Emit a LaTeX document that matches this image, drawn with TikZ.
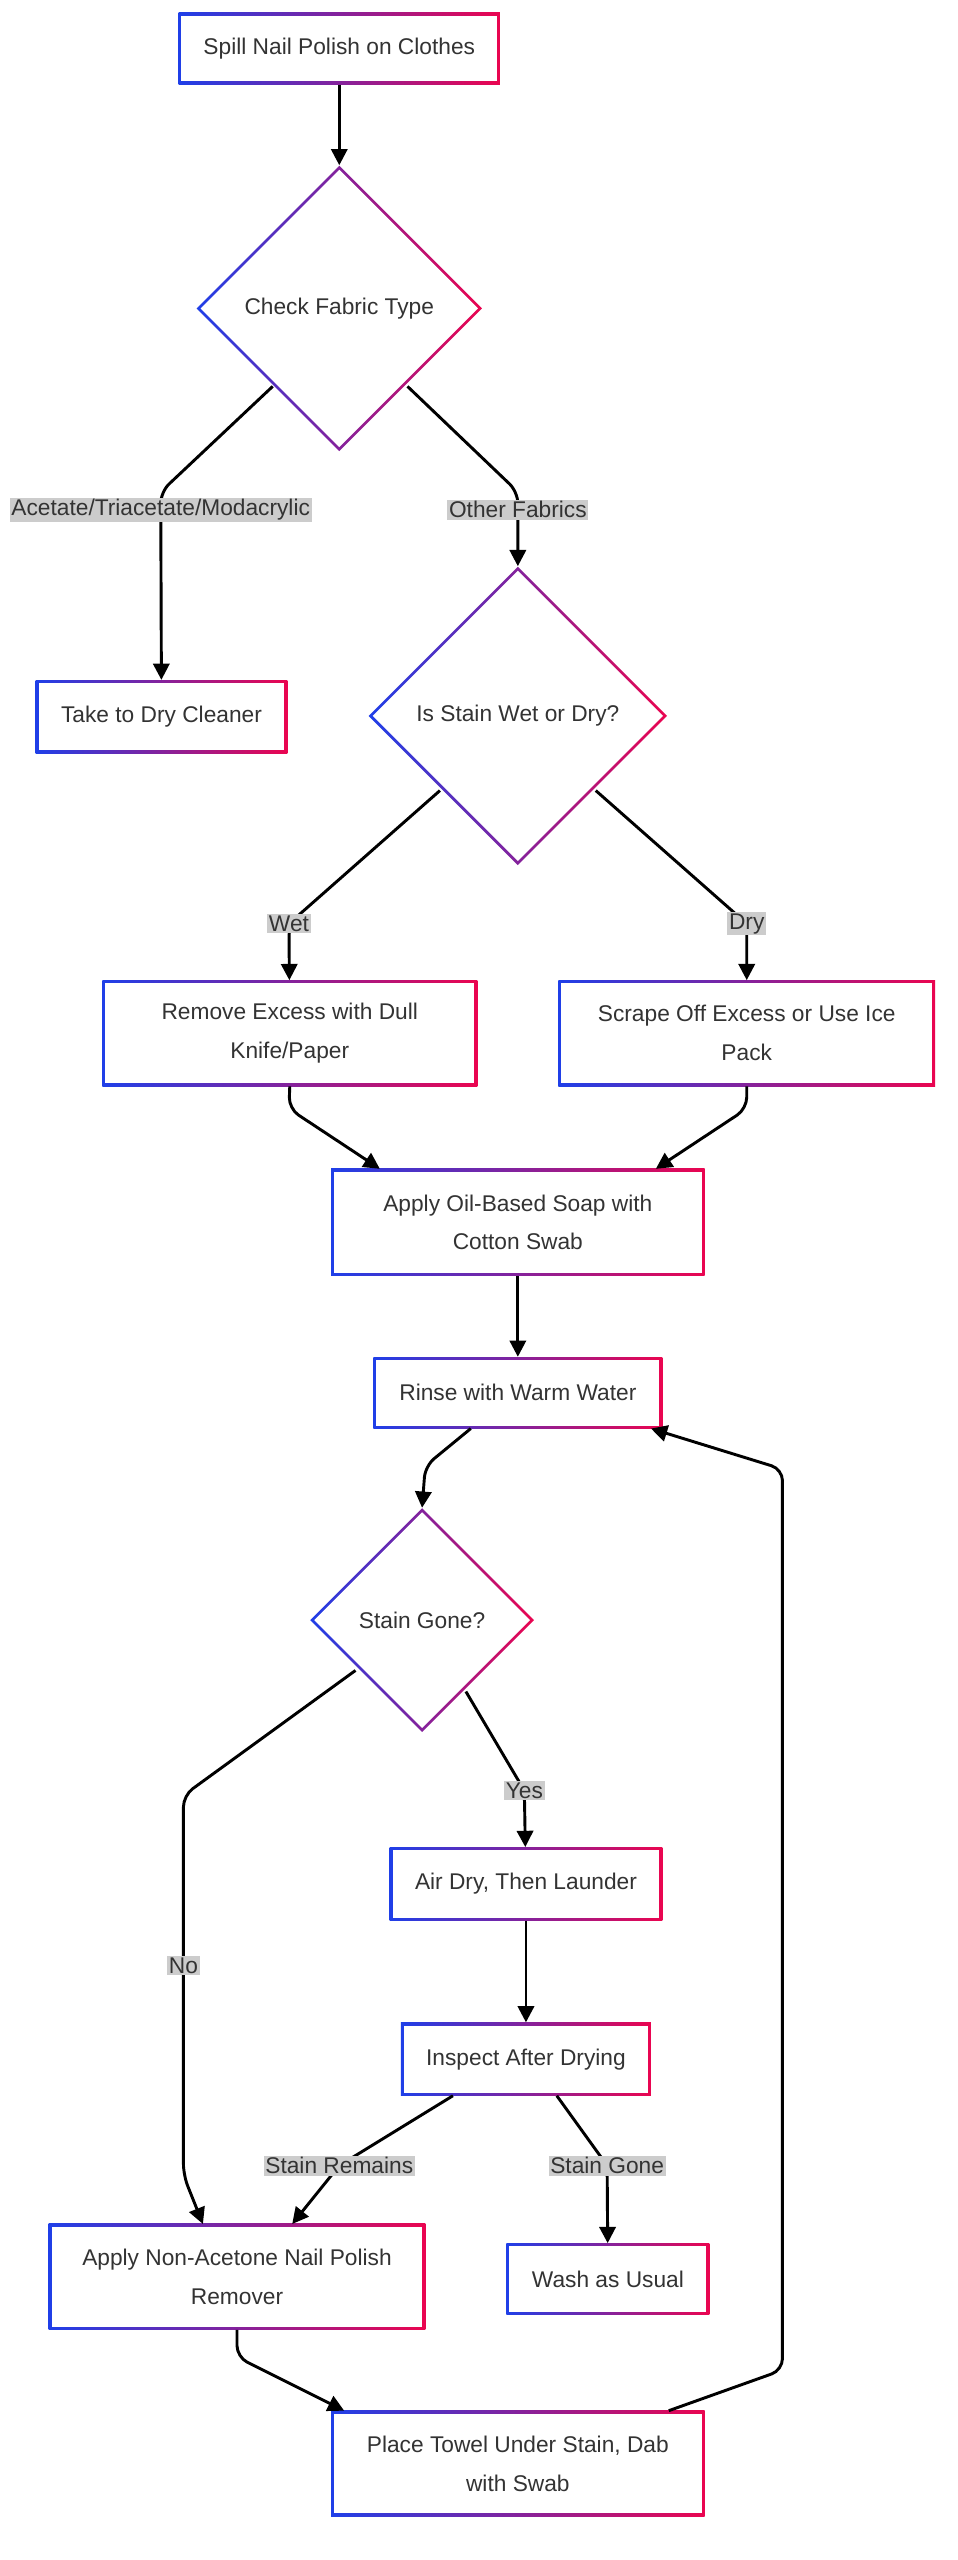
\documentclass[tikz,border=0pt]{standalone}
\usepackage{fontspec}
\setmainfont{Liberation Sans}
\usetikzlibrary{shapes.geometric,arrows.meta,calc}
\definecolor{gblue}{HTML}{1F3FE8}
\definecolor{gred}{HTML}{EA0550}
\definecolor{txt}{HTML}{333333}
\tikzset{
	gbox/.style={rectangle, inner sep=0pt, align=center, text=txt, font=\fontsize{14}{24}\selectfont,
		path picture={
			\shade[left color=gblue, right color=gred] (path picture bounding box.south west) rectangle (path picture bounding box.north east);
			\fill[white] ([shift={(1.8pt,1.8pt)}]path picture bounding box.south west) rectangle ([shift={(-1.8pt,-1.8pt)}]path picture bounding box.north east);
		}},
	gdia/.style={diamond, aspect=1, inner sep=0pt, align=center, text=txt, font=\fontsize{14}{24}\selectfont,
		path picture={
			\shade[left color=gblue, right color=gred] (path picture bounding box.south west) rectangle (path picture bounding box.north east);
			\fill[white] ([yshift=-2.5pt]path picture bounding box.north) -- ([xshift=-2.5pt]path picture bounding box.east) -- ([yshift=2.5pt]path picture bounding box.south) -- ([xshift=2.5pt]path picture bounding box.west) -- cycle;
		}},
	edge/.style={line width=1.8pt, rounded corners=7pt, -{Triangle[length=10pt,width=10pt]}},
	lbl/.style={fill=black!20, inner sep=1pt, text=txt, font=\fontsize{14}{16}\selectfont}
}

\begin{document}
\begin{tikzpicture}[x=1pt,y=-1pt]
	\useasboundingbox (0,0) rectangle (590,1577);

	\node[gbox, minimum width=198, minimum height=44] (spill) at (209,30) {Spill Nail Polish on Clothes};
	\node[gdia, minimum width=176, minimum height=176] (fabric) at (209,190) {Check Fabric Type};
	\node[gbox, minimum width=155, minimum height=45] (cleaner) at (99.5,441.5) {Take to Dry Cleaner};
	\node[gdia, minimum width=184, minimum height=184] (wetdry) at (319,441) {Is Stain Wet or Dry?};
	\node[gbox, minimum width=231, minimum height=65] (remove) at (178.5,636.5) {Remove Excess with Dull\\Knife/Paper};
	\node[gbox, minimum width=232, minimum height=65] (scrape) at (460,636.5) {Scrape Off Excess or Use Ice\\Pack};
	\node[gbox, minimum width=230, minimum height=66] (soap) at (319,753) {Apply Oil-Based Soap with\\Cotton Swab};
	\node[gbox, minimum width=178, minimum height=44] (rinse) at (319,858) {Rinse with Warm Water};
	\node[gdia, minimum width=138, minimum height=138] (gone) at (260,998) {Stain Gone?};
	\node[gbox, minimum width=168, minimum height=45] (airdry) at (324,1160.5) {Air Dry, Then Launder};
	\node[gbox, minimum width=154, minimum height=45] (inspect) at (324,1268.5) {Inspect After Drying};
	\node[gbox, minimum width=232, minimum height=65] (remover) at (146,1402.5) {Apply Non-Acetone Nail Polish\\Remover};
	\node[gbox, minimum width=125, minimum height=44] (wash) at (374.5,1404) {Wash as Usual};
	\node[gbox, minimum width=230, minimum height=65] (towel) at (319,1517.5) {Place Towel Under Stain, Dab\\with Swab};

	\draw[edge] (spill) -- (fabric);
	\draw[edge] (168,238) -- (99,303) -- (cleaner);
	\draw[edge] (251,238) -- (319,303) -- (wetdry);
	\draw[edge] (271,487) -- (178,569) -- (remove);
	\draw[edge] (367,487) -- (460,569) -- (scrape);
	\draw[edge] (remove.south) -- (178,683) -- (234,720);
	\draw[edge] (scrape.south) -- (460,683) -- (404,720);
	\draw[edge] (soap) -- (rinse);
	\draw[edge] (290,880) -- (262,903) -- (gone.north);
	\draw[edge] (287,1042) -- (323,1103) -- (airdry);
	\draw[edge] (219,1029) -- (113,1106) -- (113,1340) -- (125,1370);
	\draw[edge] (airdry) -- (inspect);
	\draw[edge] (279,1291) -- (209,1334) -- (180,1370);
	\draw[edge] (343,1291) -- (374,1334) -- (wash);
	\draw[edge] (remover.south) -- (146,1452) -- (212,1485);
	\draw[edge] (412,1485) -- (482,1460) -- (482,905) -- (401,880);

	\node[lbl] at (99,314) {Acetate/Triacetate/Modacrylic};
	\node[lbl] at (319,314) {Other Fabrics};
	\node[lbl] at (178,569) {Wet};
	\node[lbl] at (460,569) {Dry};
	\node[lbl] at (323,1103) {Yes};
	\node[lbl] at (113,1211) {No};
	\node[lbl] at (209,1334) {Stain Remains};
	\node[lbl] at (374,1334) {Stain Gone};
\end{tikzpicture}
\end{document}
